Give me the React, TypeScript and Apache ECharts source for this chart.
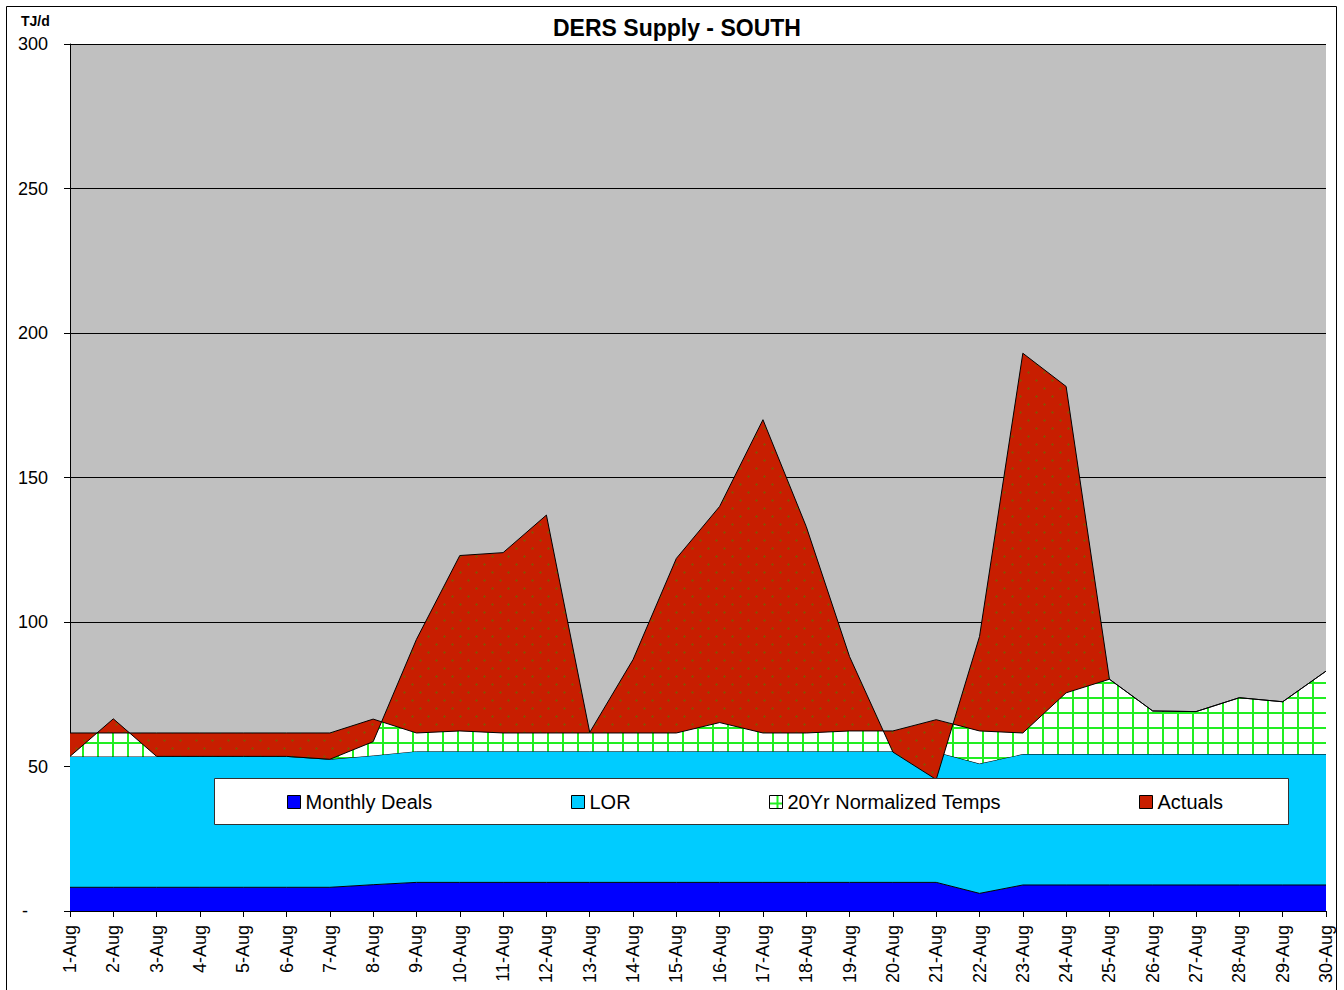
import React, { useEffect, useRef } from "react";
import * as echarts from "echarts";

const FONT = "'Liberation Sans', Arial, Helvetica, sans-serif";

const categories = [
  "1-Aug", "2-Aug", "3-Aug", "4-Aug", "5-Aug", "6-Aug", "7-Aug", "8-Aug", "9-Aug", "10-Aug",
  "11-Aug", "12-Aug", "13-Aug", "14-Aug", "15-Aug", "16-Aug", "17-Aug", "18-Aug", "19-Aug", "20-Aug",
  "21-Aug", "22-Aug", "23-Aug", "24-Aug", "25-Aug", "26-Aug", "27-Aug", "28-Aug", "29-Aug", "30-Aug",
];

// Top of each stacked band (TJ/d)
const monthlyDeals = [
  8.2, 8.2, 8.2, 8.2, 8.2, 8.2, 8.2, 9.1, 9.9, 9.9,
  9.9, 9.9, 9.9, 9.9, 9.9, 9.9, 9.9, 9.9, 9.9, 9.9,
  9.9, 6.1, 9.0, 9.0, 9.0, 9.0, 9.0, 9.0, 9.0, 9.0,
];
const lorLevel = [
  53.5, 53.5, 53.5, 53.5, 53.5, 53.5, 52.5, 53.8, 55.3, 55.3,
  55.3, 55.3, 55.3, 55.3, 55.3, 55.3, 55.3, 55.3, 55.3, 55.3,
  55.0, 51.0, 54.3, 54.3, 54.3, 54.3, 54.3, 54.3, 54.3, 54.3,
];
const normalizedLevel = [
  61.6, 61.6, 61.6, 61.6, 61.6, 61.6, 61.6, 66.4, 61.6, 62.3,
  61.6, 61.6, 61.6, 61.6, 61.6, 65.2, 61.6, 61.6, 62.3, 62.3,
  66.2, 62.3, 61.6, 75.5, 80.2, 69.2, 69.0, 73.8, 72.4, 83.0,
];
const actualsLevel = [
  53.5, 66.5, 53.5, 53.5, 53.5, 53.5, 52.5, 58.6, 94.0, 123.0,
  124.0, 137.0, 61.8, 87.0, 122.0, 140.0, 170.0, 133.0, 88.0, 55.0,
  45.5, 95.0, 193.0, 181.5, 80.2, 69.2, 69.0, 73.8, 72.4, 83.0,
];

const yMin = 0;
const yMax = 300;
const yStep = 50;

const seriesNames = ["Monthly Deals", "LOR", "20Yr Normalized Temps", "Actuals"];

function diff(top: number[], bottom: number[]) {
  return top.map((v, i) => Math.round((v - bottom[i]) * 100) / 100);
}

function makeGreenPattern() {
  const c = document.createElement("canvas");
  c.width = 15;
  c.height = 15;
  const g = c.getContext("2d")!;
  g.fillStyle = "#ffffff";
  g.fillRect(0, 0, 15, 15);
  g.fillStyle = "#22ee22";
  g.fillRect(7, 0, 2, 15);
  g.fillRect(0, 7, 15, 2);
  return c.toDataURL();
}

function makeRedPattern() {
  const c = document.createElement("canvas");
  c.width = 16;
  c.height = 16;
  const g = c.getContext("2d")!;
  g.fillStyle = "#c81e00";
  g.fillRect(0, 0, 16, 16);
  g.fillStyle = "#8f4a00";
  const plus = (x: number, y: number) => {
    g.fillRect(x - 1, y, 3, 1);
    g.fillRect(x, y - 1, 1, 3);
  };
  plus(4, 4);
  plus(12, 12);
  return c.toDataURL();
}

export default function App() {
  const ref = useRef<HTMLDivElement>(null);

  useEffect(() => {
    document.body.style.margin = "0";
    const chart = echarts.init(ref.current!, null, { renderer: "svg" });

    const greenPat = { image: makeGreenPattern(), repeat: "repeat", imageWidth: 15, imageHeight: 15 };
    const redPat = { image: makeRedPattern(), repeat: "repeat", imageWidth: 16, imageHeight: 16 };

    const lorValues = diff(lorLevel, monthlyDeals);
    const normalValues = diff(normalizedLevel, lorLevel);
    const actualValues = diff(actualsLevel, normalizedLevel);

    const fills: any[] = ["#0000ff", "#00ccff", greenPat, redPat];
    const legendColors: any[] = ["#0000ff", "#00ccff", greenPat, "#c81e00"];
    const datas = [monthlyDeals, lorValues, normalValues, actualValues];
    const legendLefts = [287, 571, 769, 1139];
    const zs = [2, 2, 3, 3];

    const series = seriesNames.map((name, i) => ({
      name,
      type: "line",
      stack: "total",
      stackStrategy: "all",
      data: datas[i],
      symbol: "none",
      showSymbol: false,
      smooth: false,
      lineStyle: { color: "#000", width: 1 },
      itemStyle: { color: legendColors[i] },
      areaStyle: { color: fills[i], opacity: 1 },
      emphasis: { disabled: true },
      z: zs[i],
    }));

    const legends = seriesNames.map((name, i) => ({
      show: true,
      left: legendLefts[i],
      top: 792,
      padding: 0,
      itemWidth: 13,
      itemHeight: 13,
      itemGap: 0,
      icon: "rect",
      selectedMode: false,
      z: 20,
      textStyle: { fontSize: 20, color: "#000", fontFamily: FONT },
      data: [{ name, itemStyle: { color: legendColors[i], borderColor: "#000", borderWidth: 1 } }],
    }));

    const option: any = {
      animation: false,
      backgroundColor: "#ffffff",
      textStyle: { fontFamily: FONT },
      title: {
        text: "DERS Supply - SOUTH",
        left: 553,
        top: 16,
        padding: 0,
        textStyle: { fontSize: 23, fontWeight: "bold", color: "#000", fontFamily: FONT },
      },
      legend: legends,
      grid: {
        left: 70,
        right: 18,
        top: 44,
        bottom: 79,
        show: true,
        backgroundColor: "#c0c0c0",
        borderWidth: 0,
        outerBoundsMode: "none",
        containLabel: false,
      },
      xAxis: {
        type: "category",
        data: categories,
        boundaryGap: false,
        axisLine: { show: true, lineStyle: { color: "#000", width: 1 } },
        axisTick: { show: true, length: 6, inside: false, interval: 0, lineStyle: { color: "#000" } },
        axisLabel: { rotate: 90, interval: 0, margin: 14, fontSize: 18, color: "#000", fontFamily: FONT },
        splitLine: { show: false },
      },
      yAxis: {
        type: "value",
        min: yMin,
        max: yMax,
        interval: yStep,
        axisLine: { show: true, lineStyle: { color: "#000", width: 1 } },
        axisTick: { show: true, length: 6, lineStyle: { color: "#000" } },
        axisLabel: {
          margin: 22,
          fontSize: 18,
          color: "#000",
          fontFamily: FONT,
          formatter: (v: number) => (v === 0 ? "{d|-}" : String(v)),
          rich: { d: { fontSize: 18, color: "#000", fontFamily: FONT, padding: [0, 20, 0, 0] } },
        },
        splitLine: { show: true, lineStyle: { color: "#000", width: 1 } },
      },
      graphic: [
        {
          type: "rect",
          z: 10,
          shape: { x: 214.5, y: 778.5, width: 1074, height: 46 },
          style: { fill: "#ffffff", stroke: "#333", lineWidth: 1 },
        },
        {
          type: "rect",
          z: 100,
          shape: { x: 6.5, y: 6.5, width: 1330, height: 1000 },
          style: { fill: "none", stroke: "#000", lineWidth: 1 },
        },
        {
          type: "text",
          z: 100,
          x: 21,
          y: 14,
          style: { text: "TJ/d", fill: "#000", font: `bold 14px ${FONT}` },
        },
      ],
      series,
    };

    chart.setOption(option);
    return () => chart.dispose();
  }, []);

  return <div ref={ref} style={{ width: 1344, height: 990 }} />;
}
